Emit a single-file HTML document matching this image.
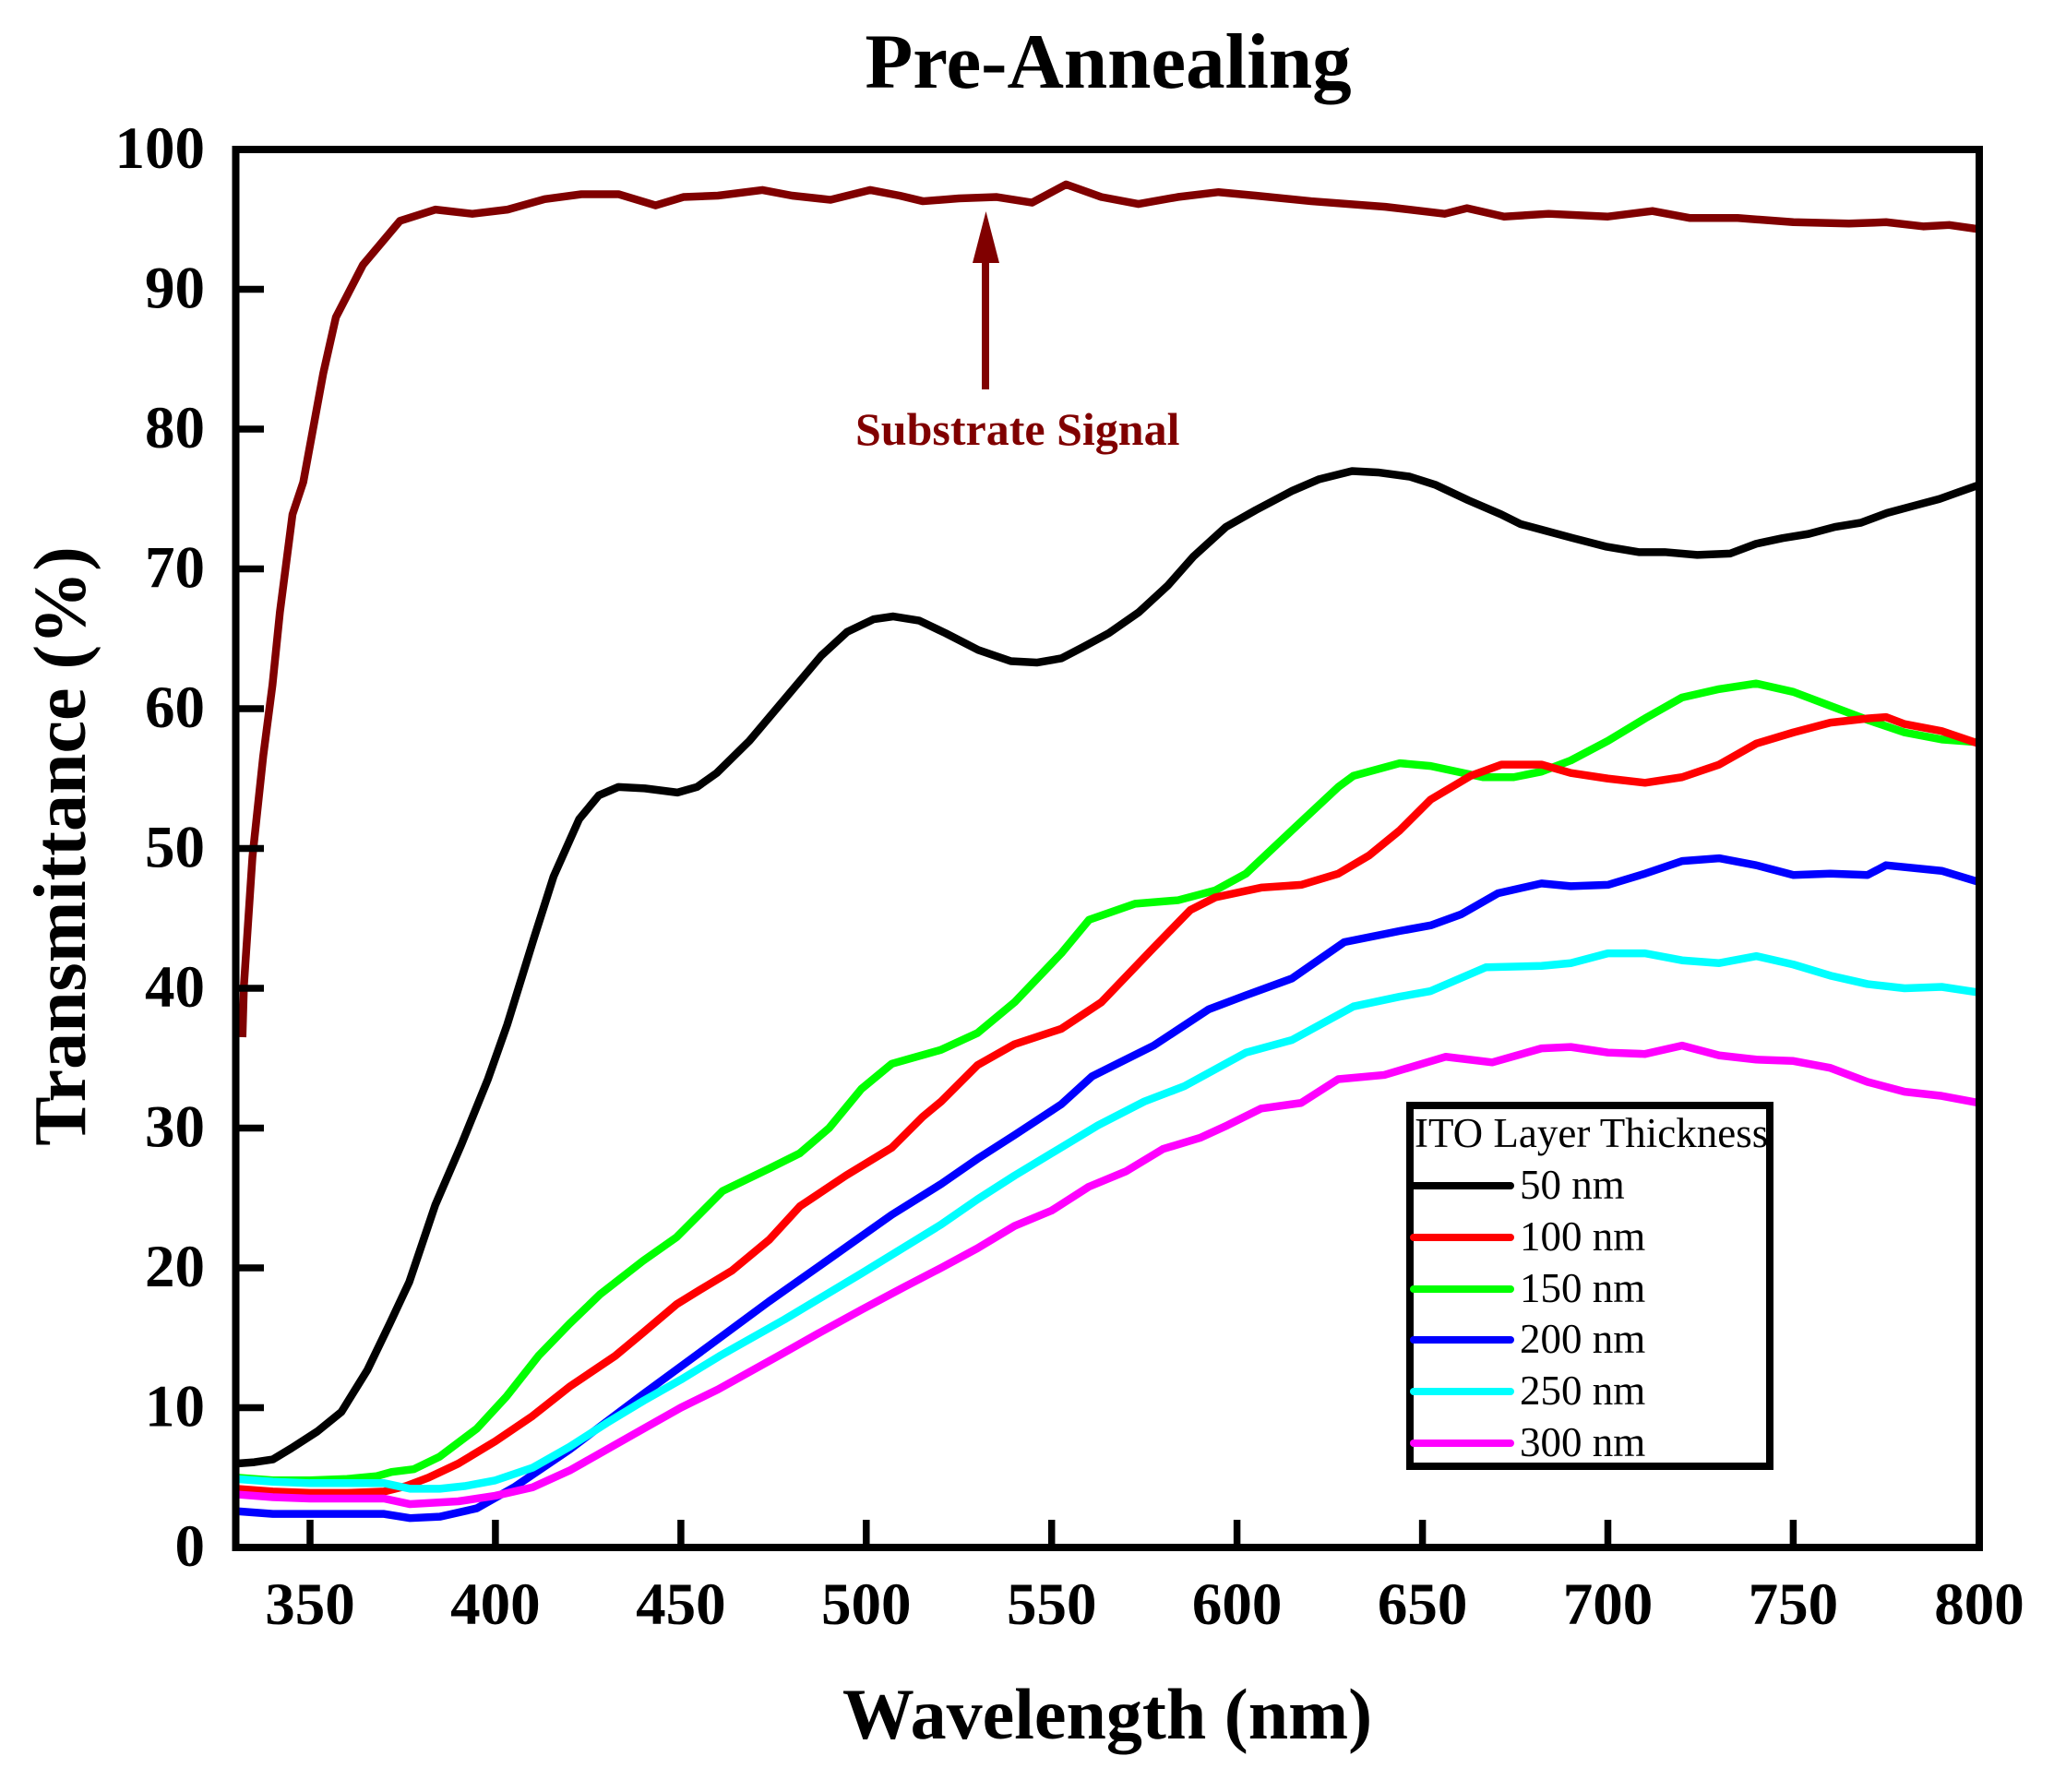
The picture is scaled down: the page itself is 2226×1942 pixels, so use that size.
<!DOCTYPE html>
<html>
<head>
<meta charset="utf-8">
<style>
  html,body{margin:0;padding:0;background:#fff;}
  svg{display:block;}
  text{font-family:"Liberation Serif","Times New Roman",serif;}
</style>
</head>
<body>
<svg width="2226" height="1942" viewBox="0 0 2226 1942" xmlns="http://www.w3.org/2000/svg">
  <rect x="0" y="0" width="2226" height="1942" fill="#fff"/>

  <!-- Title -->
  <text x="1201" y="95" font-size="85" font-weight="bold" text-anchor="middle" fill="#000">Pre-Annealing</text>

  <!-- Data curves (data coords -> pixels) -->
  <g transform="matrix(4.0191 0 0 -15.15 -1070.8 1677)" fill="none" stroke-width="8.5" stroke-linejoin="round" stroke-linecap="butt">
    <!-- Substrate -->
    <polyline vector-effect="non-scaling-stroke" stroke="#800000" points="331.8,36.5 332.2,40.2 334.5,49.4 337.4,56.6 339.9,61.7 341.9,66.9 345.3,73.9 348.2,76.2 353.6,84 357,88 364.3,91.75 374.3,94.9 383.8,95.7 393.8,95.4 403.3,95.7 413.3,96.45 423.2,96.8 433.2,96.8 443.2,96.0 450.7,96.6 460,96.7 472,97.1 480,96.7 490.4,96.4 501.1,97.1 509,96.7 515.3,96.3 525,96.5 535.2,96.6 544.7,96.2 553.9,97.5 563.4,96.6 573.4,96.1 584,96.6 595,96.95 605,96.7 620,96.3 640,95.9 656,95.4 662,95.8 672,95.2 684,95.4 700,95.2 712,95.6 722,95.1 735,95.1 750,94.8 765,94.7 775,94.8 785,94.5 792,94.6 800,94.3"/>
    <!-- 50 nm -->
    <polyline vector-effect="non-scaling-stroke" stroke="#000000" points="330,6.0 335,6.1 340,6.3 345,7.1 352,8.3 358.5,9.7 365.5,12.7 371.5,16 376.8,19 383.8,24.5 390.8,28.8 398,33.5 403.2,37.4 410.3,43.5 415.7,48 422.6,52.1 427.9,53.8 433.2,54.4 440.3,54.3 449.1,54.0 454.4,54.4 459.7,55.4 468.5,57.7 479,61 487.9,63.8 494.9,65.5 502,66.4 507.3,66.6 514.3,66.3 521.4,65.4 530.2,64.2 539,63.4 546,63.3 552.6,63.6 558.4,64.4 565.4,65.4 573.5,66.9 581.3,68.8 588.3,70.9 597,73.0 605,74.2 615,75.6 622,76.4 631,77.0 638,76.9 646.5,76.6 653.6,76.0 662.4,74.9 671.2,73.9 676.5,73.2 683.6,72.7 690.6,72.2 699.4,71.6 708.3,71.2 715.3,71.2 724.1,71.0 733,71.1 740,71.8 747.1,72.2 754.1,72.5 761.2,73.0 768.2,73.3 775.3,74.0 782.3,74.5 789.4,75.0 794.7,75.5 800,76.0"/>
    <!-- 150 nm -->
    <polyline vector-effect="non-scaling-stroke" stroke="#00ff00" points="330,5.0 340,4.8 350,4.8 360,4.9 368,5.1 372,5.4 378,5.6 385,6.5 395,8.5 403,10.8 411.6,13.7 420,16 428.2,18.1 439.8,20.5 448.9,22.2 461.3,25.5 473.8,27.1 482.1,28.2 490,30 498.7,32.8 506.9,34.6 520.2,35.6 530,36.8 540,39 552.6,42.5 560.1,44.9 572.5,46.05 584.1,46.3 594.1,47.0 602.4,48.2 614.8,51.3 627.3,54.4 631.4,55.2 643.9,56.1 652.2,55.9 666.3,55.1 674.6,55.1 682.1,55.5 690,56.3 700,57.7 710,59.3 720,60.8 730,61.4 740,61.8 750,61.2 760,60.2 770,59.2 780,58.3 790,57.8 800,57.6"/>
    <!-- 100 nm -->
    <polyline vector-effect="non-scaling-stroke" stroke="#ff0000" points="330,4.2 340,4.0 350,3.9 360,3.9 370,4.0 376,4.4 382,5.0 390,6.0 400,7.6 410,9.4 420,11.5 432.3,13.7 440,15.4 448.9,17.4 455,18.4 463.8,19.8 473.8,22.0 482.1,24.4 494.5,26.6 506.9,28.6 515.2,30.8 520.2,31.9 530,34.5 540,36.0 552.6,37.1 563.4,39.0 577.5,42.9 587.4,45.6 594.1,46.5 606.5,47.2 617.3,47.4 627.3,48.2 635.6,49.5 643.9,51.3 652.2,53.5 663,55.2 671.3,56.0 682.1,56.0 690,55.4 700,55.0 710,54.7 720,55.1 730,56.0 740,57.5 750,58.3 760,59.0 770,59.3 775,59.4 780,58.9 790,58.4 800,57.5"/>
    <!-- 200 nm -->
    <polyline vector-effect="non-scaling-stroke" stroke="#0000ff" points="330,2.6 340,2.4 350,2.4 360,2.4 370,2.4 377,2.1 385,2.2 395,2.8 405,4.3 420,7.0 430,9.0 440,11.0 453.9,13.7 473.8,17.6 490.4,20.7 506.9,23.8 520.2,26.0 530,27.8 540,29.5 552.6,31.7 560.9,33.7 577.5,35.9 592.4,38.5 602.4,39.5 614.8,40.7 628.9,43.3 643.9,44.1 652.2,44.5 660.5,45.3 670.4,46.8 682.1,47.5 690,47.3 700,47.4 710,48.2 720,49.1 730,49.3 740,48.8 750,48.1 760,48.2 770,48.1 775,48.8 790,48.4 800,47.6"/>
    <!-- 250 nm -->
    <polyline vector-effect="non-scaling-stroke" stroke="#00ffff" points="330,4.9 340,4.7 350,4.6 360,4.6 370,4.6 377,4.2 385,4.2 392,4.4 400,4.8 410,5.7 420,7.2 430,8.9 440,10.5 450,12.0 460.5,13.7 477.9,16.3 498.7,19.6 520.2,23.1 530,24.9 540,26.6 550,28.2 562.5,30.2 575,31.9 585.8,33.0 602.4,35.4 614.8,36.3 631.4,38.7 643.9,39.4 652.2,39.8 667.1,41.5 682.1,41.6 690,41.8 700,42.5 710,42.5 720,42.0 730,41.8 740,42.3 750,41.7 760,40.9 770,40.3 780,40.0 790,40.1 800,39.7"/>
    <!-- 300 nm -->
    <polyline vector-effect="non-scaling-stroke" stroke="#ff00ff" points="330,3.8 340,3.6 350,3.5 360,3.5 370,3.5 377,3.1 390,3.3 400,3.7 410,4.3 420,5.5 430,7.0 440,8.5 450,10 460,11.3 476.3,13.7 487,15.3 498.7,17.0 510,18.6 520.2,20.0 530,21.4 540,23 550,24.1 560,25.8 570,26.9 580,28.5 590,29.3 597.4,30.2 606.5,31.4 617.3,31.8 627.3,33.5 639.7,33.8 656.3,35.1 668.8,34.7 682.1,35.7 690,35.8 700,35.4 710,35.3 720,35.9 730,35.2 740,34.9 750,34.8 760,34.3 770,33.3 780,32.6 790,32.3 800,31.8"/>
  </g>

  <!-- Axes frame -->
  <rect x="255.5" y="162" width="1889.5" height="1515" fill="none" stroke="#000" stroke-width="8"/>

  <!-- Ticks -->
  <path d="M255.5 313.5H286 M255.5 465H286 M255.5 616.5H286 M255.5 768H286 M255.5 919.5H286 M255.5 1071H286 M255.5 1222.5H286 M255.5 1374H286 M255.5 1525.5H286
           M336 1677V1647 M536.9 1677V1647 M737.9 1677V1647 M938.8 1677V1647 M1139.7 1677V1647 M1340.6 1677V1647 M1541.6 1677V1647 M1742.5 1677V1647 M1943.4 1677V1647"
        stroke="#000" stroke-width="7.5" fill="none"/>

  <!-- Y tick labels -->
  <g font-size="65" font-weight="bold" text-anchor="end" fill="#000">
    <text x="222" y="182">100</text>
    <text x="222" y="333.5">90</text>
    <text x="222" y="485">80</text>
    <text x="222" y="636.5">70</text>
    <text x="222" y="788">60</text>
    <text x="222" y="939.5">50</text>
    <text x="222" y="1091">40</text>
    <text x="222" y="1242.5">30</text>
    <text x="222" y="1394">20</text>
    <text x="222" y="1545.5">10</text>
    <text x="222" y="1697">0</text>
  </g>

  <!-- X tick labels -->
  <g font-size="65" font-weight="bold" text-anchor="middle" fill="#000">
    <text x="336" y="1760">350</text>
    <text x="536.9" y="1760">400</text>
    <text x="737.9" y="1760">450</text>
    <text x="938.8" y="1760">500</text>
    <text x="1139.7" y="1760">550</text>
    <text x="1340.6" y="1760">600</text>
    <text x="1541.6" y="1760">650</text>
    <text x="1742.5" y="1760">700</text>
    <text x="1943.4" y="1760">750</text>
    <text x="2145" y="1760">800</text>
  </g>

  <!-- Axis labels -->
  <text x="1200" y="1884" font-size="78" font-weight="bold" text-anchor="middle" fill="#000">Wavelength (nm)</text>
  <text transform="translate(92 917) rotate(-90)" x="0" y="0" font-size="80" font-weight="bold" text-anchor="middle" fill="#000">Transmittance (%)</text>

  <!-- Substrate annotation -->
  <line x1="1068" y1="422" x2="1068" y2="283" stroke="#800000" stroke-width="8"/>
  <polygon points="1054,285 1083,285 1068.5,229" fill="#800000"/>
  <text x="927" y="482" font-size="50" font-weight="bold" fill="#800000">Substrate Signal</text>

  <!-- Legend -->
  <rect x="1528" y="1198" width="390" height="391" fill="#fff" stroke="#000" stroke-width="8"/>
  <text x="1533" y="1243" font-size="45" fill="#000">ITO Layer Thickness</text>
  <g stroke-width="8" stroke-linecap="round">
    <line x1="1532" y1="1285" x2="1637" y2="1285" stroke="#000000"/>
    <line x1="1532" y1="1341" x2="1637" y2="1341" stroke="#ff0000"/>
    <line x1="1532" y1="1397" x2="1637" y2="1397" stroke="#00ff00"/>
    <line x1="1532" y1="1452" x2="1637" y2="1452" stroke="#0000ff"/>
    <line x1="1532" y1="1508" x2="1637" y2="1508" stroke="#00ffff"/>
    <line x1="1532" y1="1564" x2="1637" y2="1564" stroke="#ff00ff"/>
  </g>
  <g font-size="45" fill="#000">
    <text x="1647" y="1299">50 nm</text>
    <text x="1647" y="1355">100 nm</text>
    <text x="1647" y="1411">150 nm</text>
    <text x="1647" y="1466">200 nm</text>
    <text x="1647" y="1522">250 nm</text>
    <text x="1647" y="1578">300 nm</text>
  </g>
</svg>
</body>
</html>
